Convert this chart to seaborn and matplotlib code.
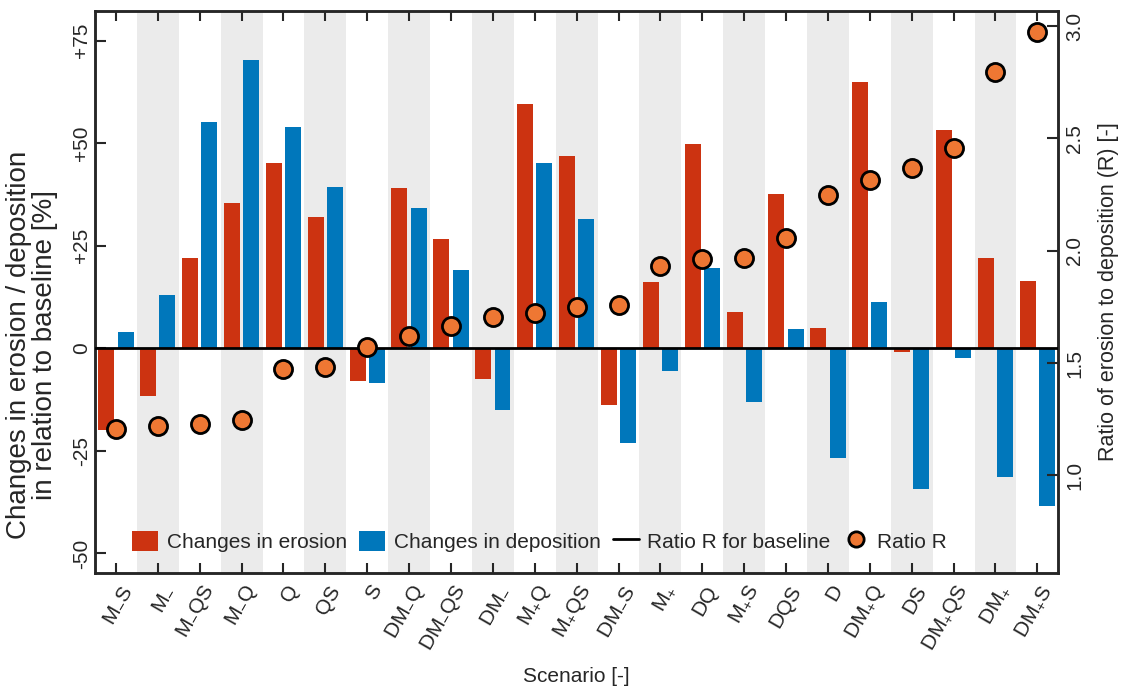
import numpy as np
import pandas as pd
import matplotlib
matplotlib.use("Agg")
import matplotlib.pyplot as plt
import matplotlib.transforms as mtransforms
import seaborn as sns
from matplotlib.lines import Line2D
from matplotlib.patches import Patch

# Scenario names (mathtext subscripts for the +/- variants)
scenarios = [r"M$_{-}$S", r"M$_{-}$", r"M$_{-}$QS", r"M$_{-}$Q", "Q", "QS", "S",
             r"DM$_{-}$Q", r"DM$_{-}$QS", r"DM$_{-}$", r"M$_{+}$Q", r"M$_{+}$QS",
             r"DM$_{-}$S", r"M$_{+}$", "DQ", r"M$_{+}$S", "DQS", "D",
             r"DM$_{+}$Q", "DS", r"DM$_{+}$QS", r"DM$_{+}$", r"DM$_{+}$S"]

# Change relative to baseline [%]
erosion = [-19.8, -11.6, 22.1, 35.5, 45.2, 32.0, -7.9, 39.1, 26.6, -7.6, 59.5, 46.9,
           -13.9, 16.2, 49.8, 8.9, 37.7, 4.9, 64.8, -0.9, 53.2, 22.1, 16.3]
deposition = [4.0, 13.0, 55.1, 70.2, 54.0, 39.4, -8.4, 34.2, 19.0, -15.0, 45.1, 31.4,
              -23.2, -5.5, 19.5, -13.0, 4.8, -26.7, 11.4, -34.4, -2.4, -31.3, -38.4]

# Ratio of erosion to deposition
ratio = [1.205, 1.221, 1.230, 1.247, 1.475, 1.481, 1.573, 1.620, 1.665, 1.705, 1.721,
         1.751, 1.757, 1.932, 1.962, 1.966, 2.057, 2.247, 2.315, 2.368, 2.458, 2.794, 2.972]
ratio_baseline = 1.566

left_ticks = [-50, -25, 0, 25, 50, 75]
left_ticklabels = ["-50", "-25", "0", "+25", "+50", "+75"]
right_ticks = [1.0, 1.5, 2.0, 2.5, 3.0]
right_ticklabels = ["1.0", "1.5", "2.0", "2.5", "3.0"]

series_names = ["Changes in erosion", "Changes in deposition"]
c_ero, c_dep, c_ratio = "#CC3311", "#0077BB", "#EE7733"

sns.set_theme(style="ticks")
plt.rcParams["font.family"] = ["Liberation Sans", "DejaVu Sans"]
plt.rcParams["mathtext.fontset"] = "custom"
plt.rcParams["mathtext.rm"] = "Liberation Sans"
plt.rcParams["mathtext.it"] = "Liberation Sans:italic"
plt.rcParams["mathtext.default"] = "regular"
plt.rcParams["axes.linewidth"] = 1.8

df = pd.DataFrame({
    "Scenario": scenarios * 2,
    "Change": erosion + deposition,
    "Type": [series_names[0]] * len(scenarios) + [series_names[1]] * len(scenarios),
})

fig = plt.figure(figsize=(11.28, 6.9), dpi=100)
ax = fig.add_axes([0.0842, 0.170, 0.854, 0.8145])

# alternating shaded columns
for i in range(len(scenarios)):
    if i % 2 == 1:
        ax.axvspan(i - 0.5, i + 0.5, color="#ebebeb", lw=0, zorder=0)

sns.barplot(data=df, x="Scenario", y="Change", hue="Type", order=scenarios,
            hue_order=series_names, palette=[c_ero, c_dep], width=0.92, gap=0.17,
            errorbar=None, saturation=1, legend=False, ax=ax, zorder=2,
            edgecolor="none", linewidth=0)

ax.set_xlim(-0.5, len(scenarios) - 0.5)
ax.set_ylim(-54.7, 82.3)
ax.set_yticks(left_ticks)
ax.set_yticklabels(left_ticklabels, rotation=90, va="center", fontsize=15)
ax.set_xticks(range(len(scenarios)))
ax.set_xticklabels(scenarios, rotation=60, ha="right", va="center",
                   rotation_mode="anchor", fontsize=15)
ax.tick_params(axis="y", direction="in", length=8, width=1.5, pad=3)
ax.tick_params(axis="x", direction="in", length=7, width=1.5, top=True, pad=10)
shift = mtransforms.ScaledTranslation(0.105, 0, fig.dpi_scale_trans)
for lbl in ax.get_xticklabels():
    lbl.set_transform(lbl.get_transform() + shift)

ax.set_xlabel("Scenario [-]", fontsize=15)
ax.xaxis.set_label_coords(0.5, -0.168)
ax.set_ylabel("Changes in erosion / deposition\nin relation to baseline [%]",
              fontsize=20, linespacing=1.0)
ax.yaxis.set_label_coords(-0.038, 0.405)

ax2 = ax.twinx()
ax2.axhline(ratio_baseline, color="black", lw=2.0, zorder=3)
sns.scatterplot(x=np.arange(len(scenarios)), y=ratio, color=c_ratio, s=170,
                edgecolor="black", linewidth=2.0, zorder=4, ax=ax2, legend=False)
ax2.set_ylim(0.567, 3.068)
ax2.set_yticks(right_ticks)
ax2.set_yticklabels(right_ticklabels, rotation=90, va="center", fontsize=15)
ax2.tick_params(axis="y", direction="in", length=8, width=1.5, pad=5)
ax2.set_ylabel("Ratio of erosion to deposition (R) [-]", fontsize=15.5, labelpad=10)
ax2.set_xlim(-0.5, len(scenarios) - 0.5)

handles = [
    Patch(facecolor=c_ero, edgecolor="none"),
    Patch(facecolor=c_dep, edgecolor="none"),
    Line2D([], [], color="black", lw=2.0),
    Line2D([], [], marker="o", color="none", markerfacecolor=c_ratio,
           markeredgecolor="black", markeredgewidth=2.0, markersize=11),
]
labels = series_names + ["Ratio R for baseline", "Ratio R"]
ax2.legend(handles, labels, loc="center left", bbox_to_anchor=(0.03, 0.056),
           ncol=4, frameon=False, fontsize=15, handlelength=1.25, handleheight=1.1,
           handletextpad=0.4, columnspacing=0.6, borderaxespad=0)

fig.savefig("out.png", dpi=100)
